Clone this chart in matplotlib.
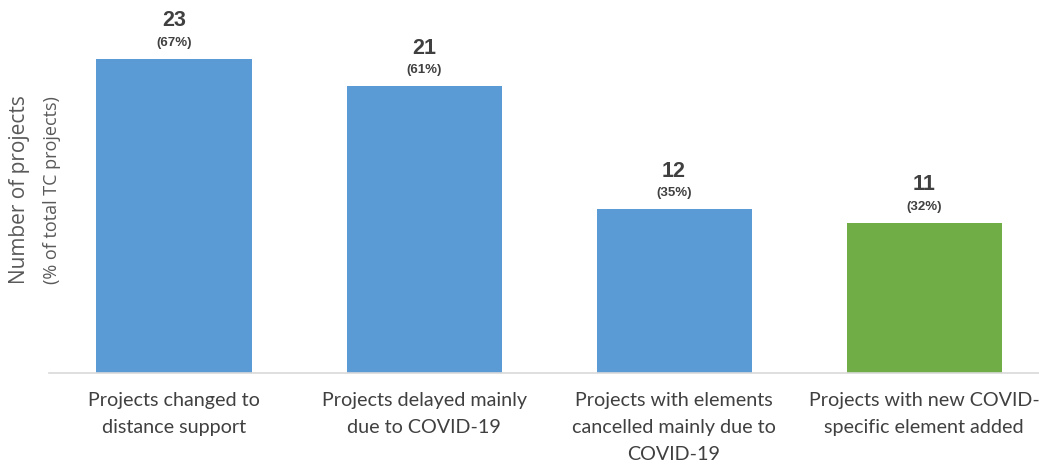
import matplotlib.pyplot as plt

categories = ["Projects changed to\ndistance support",
              "Projects delayed mainly\ndue to COVID-19",
              "Projects with elements\ncancelled mainly due to\nCOVID-19",
              "Projects with new COVID-\nspecific element added"]
counts = [23, 21, 12, 11]
percents = ["(67%)", "(61%)", "(35%)", "(32%)"]
colors = ["#5B9BD5", "#5B9BD5", "#5B9BD5", "#70AD47"]

fig = plt.figure(figsize=(10.39, 4.66), dpi=100)
ax = fig.add_axes([49 / 1039, 93 / 466, 990 / 1039, 373 / 466])

x = list(range(len(counts)))
ax.bar(x, counts, width=0.62, color=colors)
ax.set_xlim(-0.5, 3.46)
ax.set_ylim(0, 27.33)

for xi, c, p in zip(x, counts, percents):
    ax.annotate(str(c), (xi, c), xytext=(0, 27.5), textcoords="offset points",
                ha="center", va="center", fontsize=15.5, fontweight="bold",
                color="#404040", family="Liberation Sans")
    ax.annotate(p, (xi, c), xytext=(0, 11.5), textcoords="offset points",
                ha="center", va="center", fontsize=9.5, fontweight="bold",
                color="#404040", family="Liberation Sans")

ax.set_xticks(x)
ax.set_xticklabels(categories, fontsize=14.2, color="#404040", family="Lato",
                   linespacing=1.7, va="top")
ax.tick_params(axis="x", length=0, pad=14)
ax.set_yticks([])
for s in ["top", "right", "left"]:
    ax.spines[s].set_visible(False)
ax.spines["bottom"].set_color("#D9D9D9")
ax.spines["bottom"].set_linewidth(1.2)

fig.text(20 / 1039, 1 - 190 / 466, "Number of projects", rotation=90,
         ha="center", va="center", fontsize=15, color="#595959", family="Open Sans")
fig.text(52 / 1039, 1 - 190 / 466, "(% of total TC projects)", rotation=90,
         ha="center", va="center", fontsize=13, color="#595959", family="Open Sans")

fig.savefig("out.png", dpi=100)
